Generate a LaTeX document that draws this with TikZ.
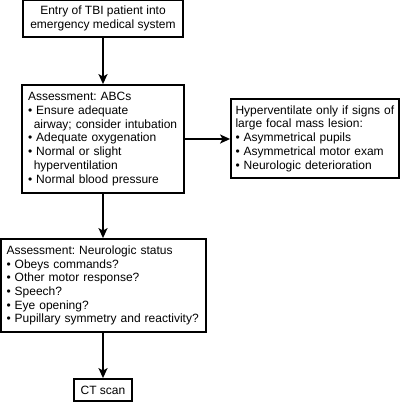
\documentclass[tikz,border=0pt]{standalone}
\usepackage{fontspec}
\setmainfont{Liberation Sans}
\usetikzlibrary{arrows.meta}
\begin{document}
\begin{tikzpicture}[x=1pt,y=-1pt,
  box/.style={draw, line width=1.8pt, inner sep=0pt, align=left,
    font=\fontsize{12}{13.7}\selectfont\frenchspacing},
  arr/.style={line width=1.8pt, -{Stealth[length=10pt,width=9pt,inset=2.5pt]}}]
\useasboundingbox (0,0) rectangle (403,402);
\newcommand{\bl}{\textbullet\ }
\newcommand{\ind}{\hspace*{0.48em}}
\node[box, minimum width=160pt, minimum height=37pt, align=center] (entry) at (103,18.5)
  {Entry of TBI patient into\\emergency medical system};
\node[box, minimum width=162pt, minimum height=108pt, text width=150pt] (abc) at (103,139)
  {Assessment: ABCs\\\bl Ensure adequate\\\ind airway; consider intubation\\\bl Adequate oxygenation\\\bl Normal or slight\\\ind hyperventilation\\\bl Normal blood pressure};
\node[box, minimum width=168pt, minimum height=79pt, text width=159pt] (hyp) at (315,138.5)
  {Hyperventilate only if signs of\\large focal mass lesion:\\\bl Asymmetrical pupils\\\bl Asymmetrical motor exam\\\bl Neurologic deterioration};
\node[box, minimum width=205pt, minimum height=93pt, text width=194pt] (neuro) at (103.5,285.5)
  {Assessment: Neurologic status\\\bl Obeys commands?\\\bl Other motor response?\\\bl Speech?\\\bl Eye opening?\\\bl Pupillary symmetry and reactivity?};
\node[box, minimum width=58pt, minimum height=22pt, align=center] (ct) at (103,390) {CT scan};
\draw[arr] (entry) -- (abc);
\draw[arr] (abc.east |- 0,139) -- (hyp.west |- 0,139);
\draw[arr] (abc) -- (neuro.north -| abc);
\draw[arr] (neuro.south -| ct) -- (ct);
\end{tikzpicture}
\end{document}
